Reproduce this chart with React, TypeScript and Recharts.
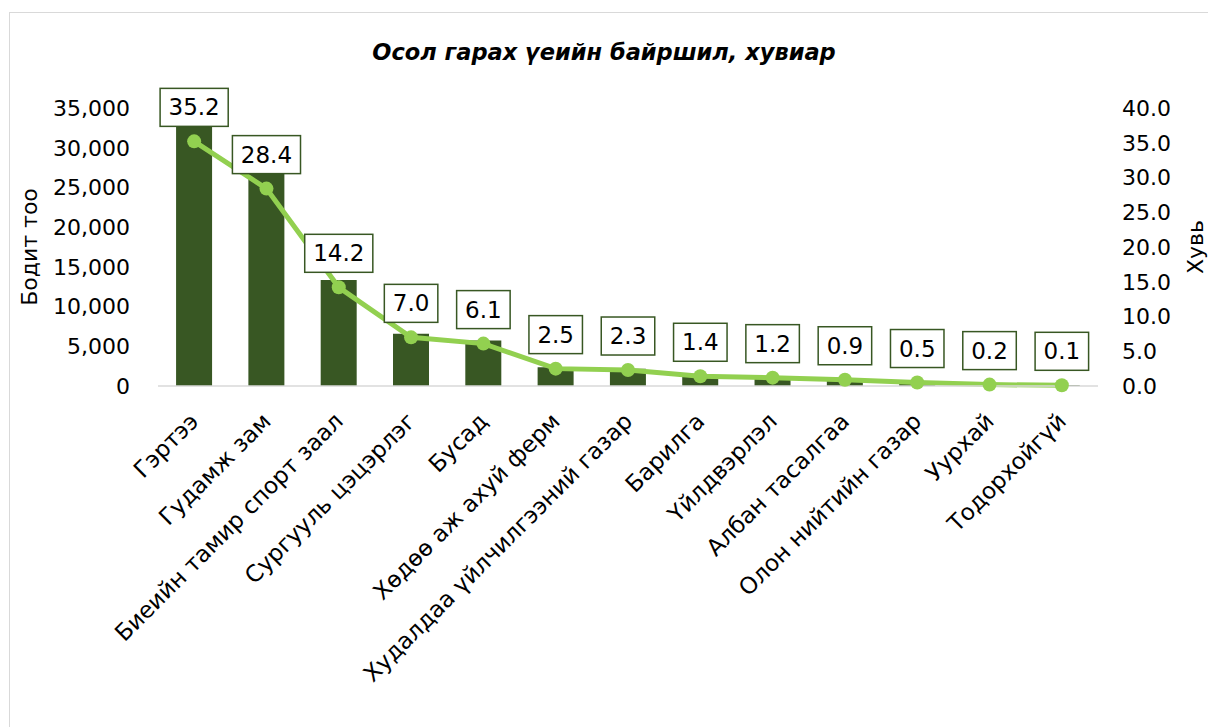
import React from 'react';
import { ComposedChart, Bar, Line, XAxis, YAxis, LabelList } from 'recharts';

const categories = [
  'Гэртээ',
  'Гудамж зам',
  'Биеийн тамир спорт заал',
  'Сургууль цэцэрлэг',
  'Бусад',
  'Хөдөө аж ахуй ферм',
  'Худалдаа үйлчилгээний газар',
  'Барилга',
  'Үйлдвэрлэл',
  'Албан тасалгаа',
  'Олон нийтийн газар',
  'Уурхай',
  'Тодорхойгүй',
];
const counts = [33100, 26700, 13350, 6580, 5730, 2350, 2160, 1320, 1130, 850, 470, 190, 95];
const shares = [35.2, 28.4, 14.2, 7.0, 6.1, 2.5, 2.3, 1.4, 1.2, 0.9, 0.5, 0.2, 0.1];
const countTicks = [0, 5000, 10000, 15000, 20000, 25000, 30000, 35000];
const shareTicks = [0, 5, 10, 15, 20, 25, 30, 35, 40];

const data = categories.map((name, i) => ({ name, count: counts[i], share: shares[i] }));

const FONT = '"DejaVu Sans", sans-serif';
const DARK = '#385723';
const LIGHT = '#92D050';

function CategoryTick(props: any) {
  const { x, y, payload } = props;
  return (
    <g transform={`translate(${x},${y + 31})`}>
      <text transform="rotate(-45)" textAnchor="end" dy="0.35em" fontSize={23} fontFamily={FONT} fill="#000">
        {payload.value}
      </text>
    </g>
  );
}

function ShareLabel(props: any) {
  const { x, y, value } = props;
  const text = Number(value).toFixed(1);
  // rough text width for 23px DejaVu digits
  const textW = text.replace('.', '').length * 14.6 + 7.3;
  const w = textW + 17;
  const cy = y - 34;
  return (
    <g>
      <rect x={x - w / 2} y={cy - 19} width={w} height={38} fill="#fff" stroke={DARK} strokeWidth={1.5} />
      <text x={x} y={cy} textAnchor="middle" dominantBaseline="central" fontSize={23} fontFamily={FONT} fill="#000">
        {text}
      </text>
    </g>
  );
}

function AxisTitle(text: string, cx: number) {
  return (props: any) => {
    const vb = props.viewBox || {};
    const cy = vb.y + vb.height / 2;
    return (
      <text transform={`translate(${cx},${cy}) rotate(-90)`} textAnchor="middle" dominantBaseline="central"
        fontSize={22} fontFamily={FONT} fill="#000">
        {text}
      </text>
    );
  };
}

export default function App() {
  return (
    <div style={{ position: 'absolute', left: 0, top: 0, width: 1208, height: 727, background: '#fff', overflow: 'hidden' }}>
      <div style={{ position: 'absolute', left: 9, top: 12, width: 1220, height: 740, border: '1px solid #d9d9d9' }} />
      <div style={{
        position: 'absolute', left: 0, top: 39, width: 1208, textAlign: 'center',
        fontFamily: FONT, fontSize: 22.5, fontWeight: 'bold', fontStyle: 'italic', lineHeight: '26px', color: '#000',
      }}>
        Осол гарах үеийн байршил, хувиар
      </div>
      <div style={{ position: 'absolute', left: 0, top: 0 }}>
        <ComposedChart width={1208} height={727} data={data} margin={{ top: 108, right: 0, bottom: 141, left: 0 }} barCategoryGap="25%">
          <XAxis dataKey="name" interval={0} height={200} tickLine={false} tickSize={0} tickMargin={0}
            axisLine={{ stroke: '#d9d9d9', strokeWidth: 1.5 }} tick={<CategoryTick />} />
          <YAxis yAxisId="left" width={158} domain={[0, 35000]} ticks={countTicks} axisLine={false} tickLine={false}
            tickSize={0} tickMargin={28} tick={{ fontSize: 22, fontFamily: FONT, fill: '#000' }}
            tickFormatter={(v: number) => v.toLocaleString('en-US')}
            label={AxisTitle('Бодит тоо', 29)} />
          <YAxis yAxisId="right" orientation="right" width={110} domain={[0, 40]} ticks={shareTicks} axisLine={false}
            tickLine={false} tickSize={0} tickMargin={24} tick={{ fontSize: 22, fontFamily: FONT, fill: '#000', textAnchor: 'start' }}
            tickFormatter={(v: number) => v.toFixed(1)}
            label={AxisTitle('Хувь', 1195)} />
          <Bar yAxisId="left" dataKey="count" fill={DARK} isAnimationActive={false} />
          <Line yAxisId="right" dataKey="share" stroke={LIGHT} strokeWidth={5} isAnimationActive={false}
            dot={{ r: 7, fill: LIGHT, stroke: 'none' }} activeDot={false}>
            <LabelList dataKey="share" content={<ShareLabel />} />
          </Line>
        </ComposedChart>
      </div>
    </div>
  );
}
